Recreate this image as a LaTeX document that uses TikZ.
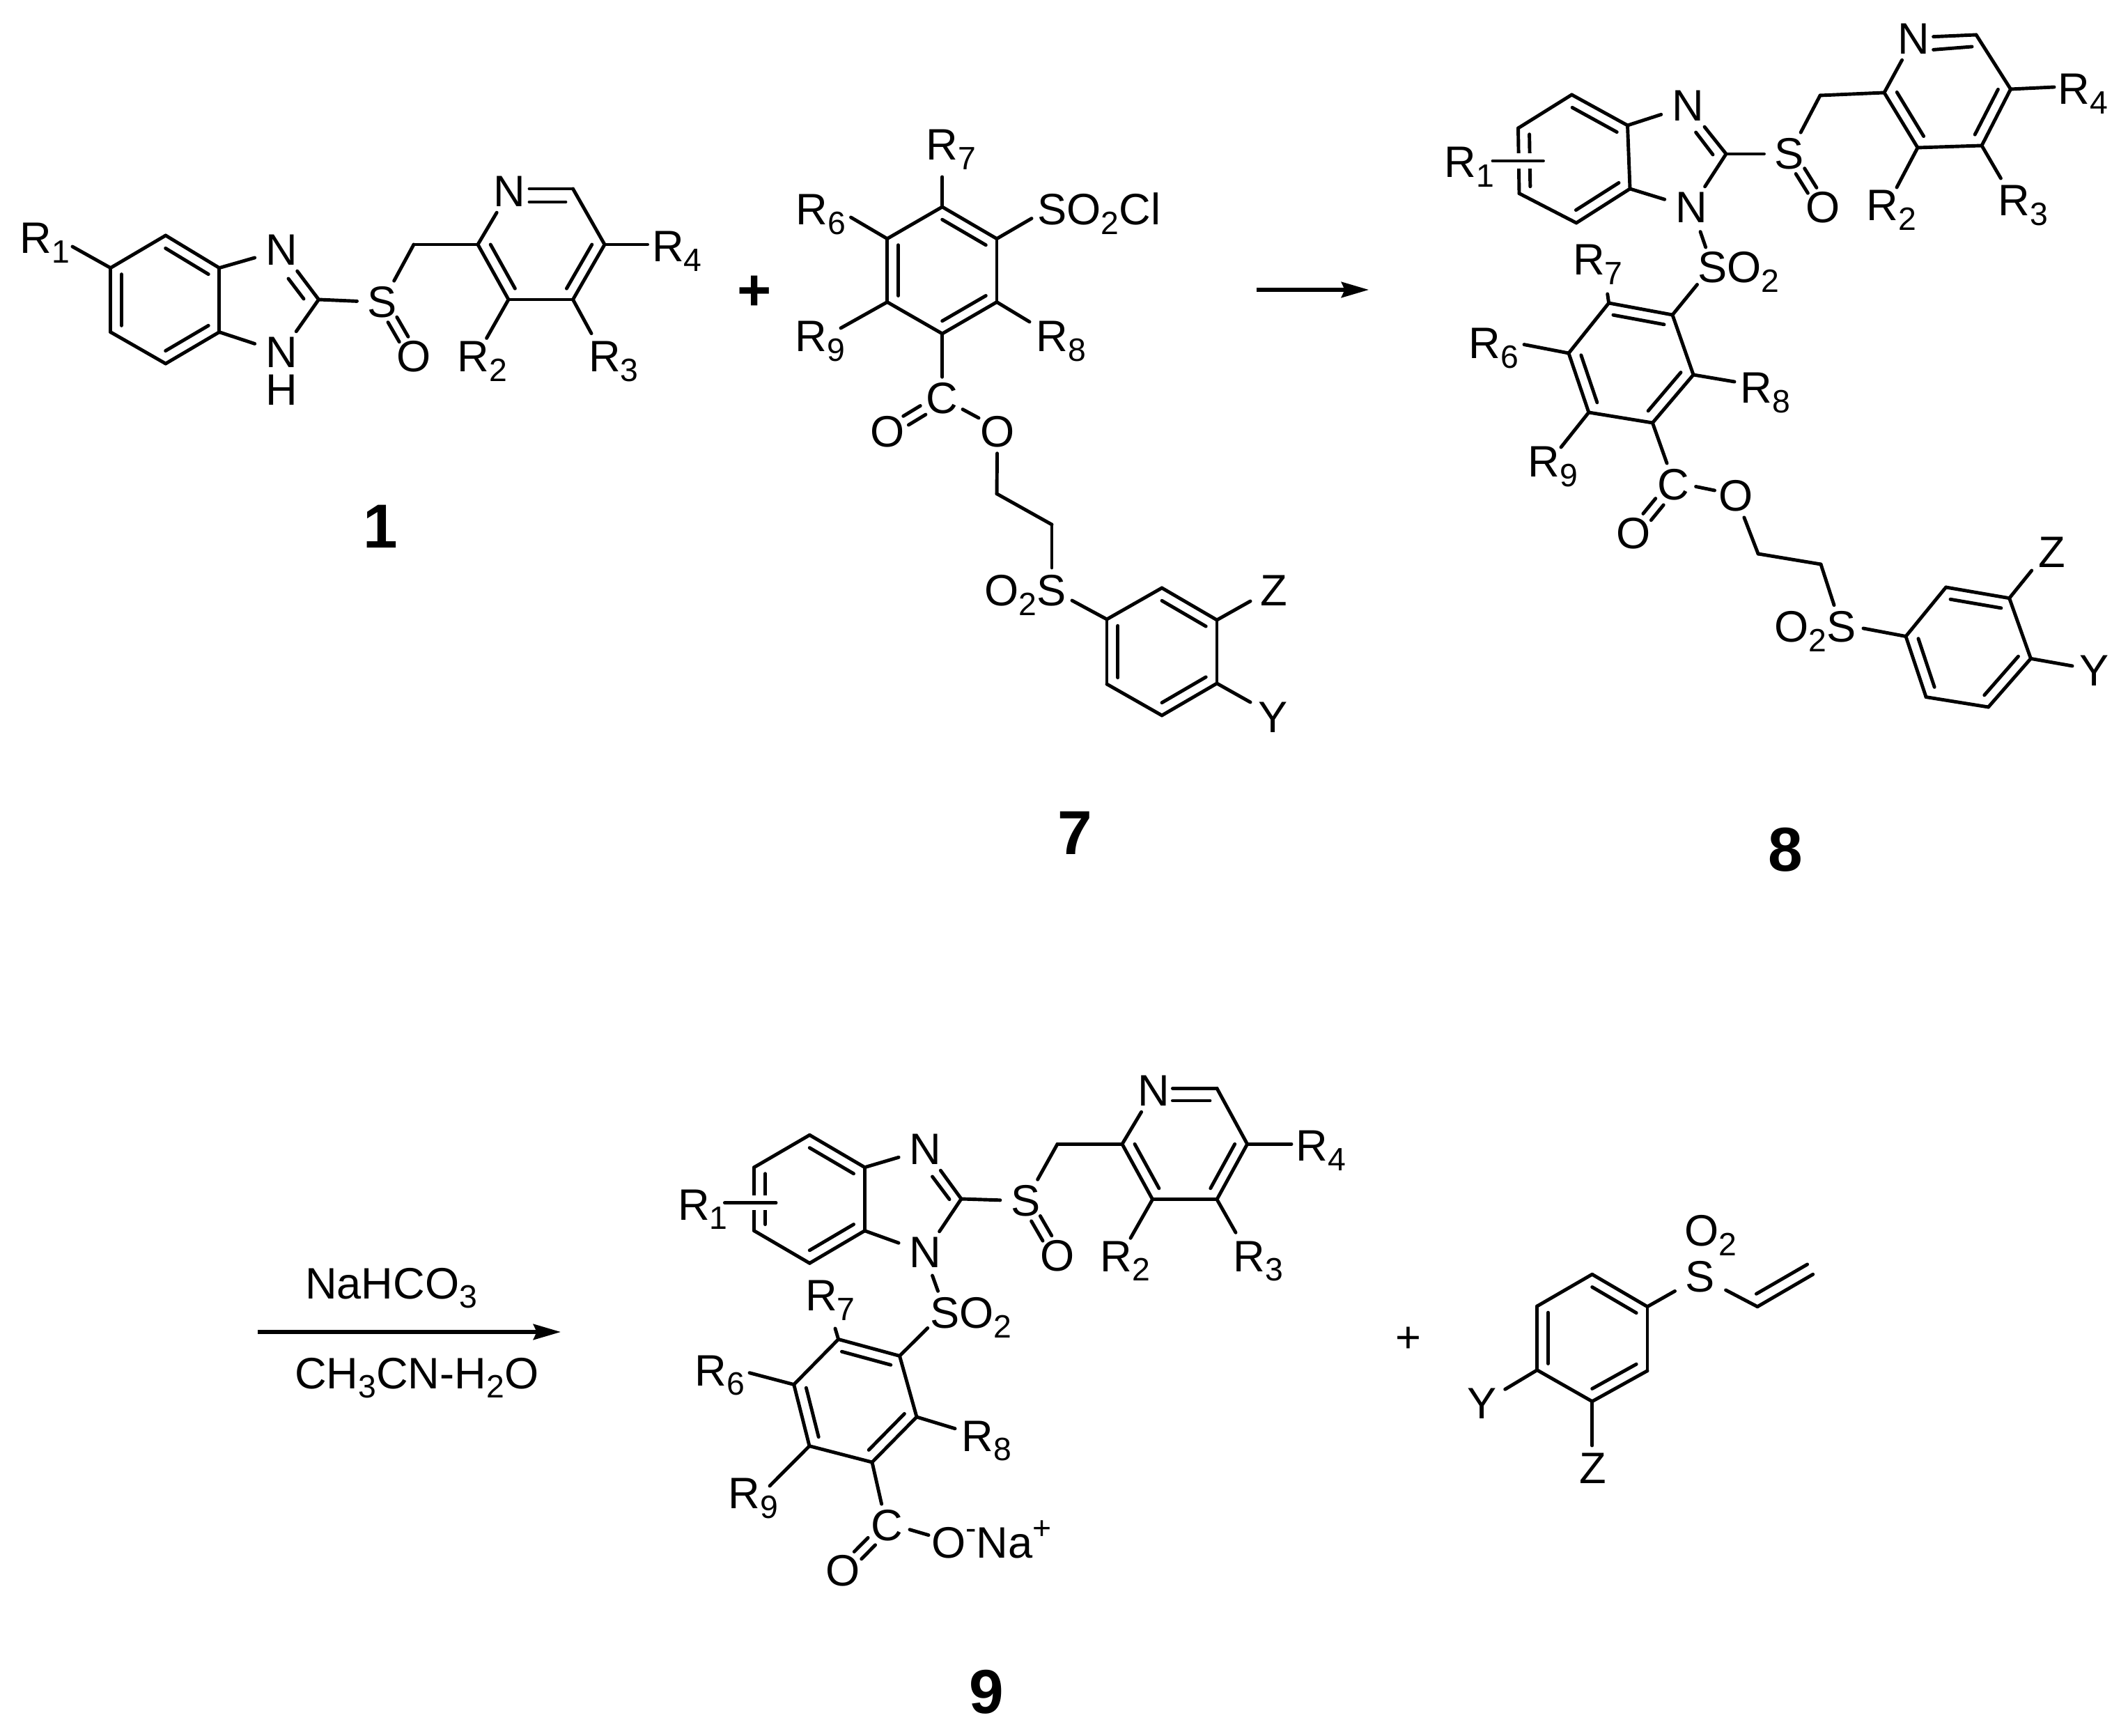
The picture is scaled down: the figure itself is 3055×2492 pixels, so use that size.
\documentclass[tikz,border=0pt]{standalone}
\usepackage{fontspec}
\setmainfont{Liberation Sans}
\usetikzlibrary{calc,arrows.meta}
\newcommand\chemsub[1]{\raisebox{-0.22em}{\fontsize{6.6}{7}\selectfont #1}}
\newcommand\chemsup[1]{\raisebox{0.42em}{\fontsize{6.6}{7}\selectfont #1}}
\newcommand\pts[1]{\foreach \nm/\xx/\yy in {#1} {\coordinate (\nm) at (\xx,\yy);}}
\newcommand\bonds[1]{\foreach \aa/\bb in {#1} {\draw[bond] (\aa) -- (\bb);}}
\newcommand\inr[3]{\draw[bond] ($(#1)!0.2!(#3)$) -- ($(#2)!0.2!(#3)$);}
\newcommand\twin[4]{%
  \coordinate (tp) at ($(#1)!#3!(#2)$);
  \coordinate (tq) at ($(#1)!#4!(#2)$);
  \draw[bond] ($(tp)!1.05pt!90:(tq)$) -- ($(tq)!1.05pt!-90:(tp)$);
  \draw[bond] ($(tp)!1.05pt!-90:(tq)$) -- ($(tq)!1.05pt!90:(tp)$);}
\newcommand\atom[4]{\node[atom] (#1) at (#2,#3) {#4};}
\newcommand\lab[4]{\node[lbl] (#1) at (#2,#3) {#4};}
\newcommand\Rr[1]{R\chemsub{#1}}
\tikzset{
  bond/.style={line width=0.7pt,line cap=round,line join=round,black},
  atom/.style={inner xsep=2pt,inner ysep=1pt,font=\fontsize{9}{10}\selectfont},
  lbl/.style={anchor=base west,xshift=-0.7pt,inner sep=0pt,font=\fontsize{9}{10}\selectfont},
  cmpd/.style={anchor=base,inner sep=0pt,font=\fontsize{12.7}{14}\selectfont\bfseries},
  rxn/.style={line width=0.72pt,-{Stealth[length=5.6pt,width=3.2pt,inset=0.7pt]}},
  halo/.style={white,line width=3pt}
}
\begin{document}
\begin{tikzpicture}[x=0.005cm,y=-0.005cm]
\useasboundingbox (0,0) rectangle (3055,2492);
% ---------- compound 1
\pts{Aa/237.8/338,Ab/314.8/384.6,Ac/314.8/476.7,Ad/237.8/522,Ae/158.7/476.7,Af/158.7/384.6,Ax/237/430,
 A2/457.5/430,Am/594/351,Ap2/686/351,Ap6/822.5/271,Ap5/868/351,Ap4/822.5/430,Ap3/730/430,Apc/777/351,
 AR1e/104/354,AR2e/698.6/485.4,AR3e/849/478.7,AR4e/929.6/351,ANo/760/271,ANi/760/290,ANj/812/290,Ai1/414/400,Ai2/436/429}
\atom{AN1}{404}{359}{N}\atom{AN2}{404}{506}{N}\lab{AH}{385}{582}{H}
\atom{AS}{549}{434}{S}\atom{AO}{594}{512}{O}\atom{AN}{731}{275}{N}
\lab{AR1}{32}{364}{\Rr1}\lab{AR2}{660}{534}{\Rr2}\lab{AR3}{848.6}{534}{\Rr3}\lab{AR4}{939.7}{376}{\Rr4}
\bonds{Aa/Ab,Ab/Ac,Ac/Ad,Ad/Ae,Ae/Af,Af/Aa,Af/AR1e,Ab/AN1,Ac/AN2,AN1/A2,AN2/A2,A2/AS,AS/Am,Am/Ap2,Ap2/AN,ANo/Ap6,Ap6/Ap5,Ap5/Ap4,Ap4/Ap3,Ap3/Ap2,ANi/ANj,Ai1/Ai2,Ap3/AR2e,Ap4/AR3e,Ap5/AR4e}
\inr{Aa}{Ab}{Ax}\inr{Ac}{Ad}{Ax}\inr{Ae}{Af}{Ax}\inr{Ap2}{Ap3}{Apc}\inr{Ap4}{Ap5}{Apc}
\twin{AS}{AO}{0.32}{0.68}
\node[cmpd] (c1) at (546,787) {1};
% ---------- plus
\node[inner sep=0pt,font=\fontsize{12}{14}\selectfont\bfseries] (plusA) at (1083,421) {+};
% ---------- compound 7
\pts{Ba/1352.7/297,Bb/1431/342.7,Bc/1431/433.6,Bd/1352.7/479,Be/1273.7/433.6,Bf/1273.7/342.7,Bx/1352.5/388,
 BR7e/1352.7/254,BR6e/1221.5/312,BSe/1481/313.6,BR9e/1207/471,BR8e/1478/462,BOa/1382/587.6,BOb/1405/600,
 Bm1/1431/708.8,Bm2/1510/753,BSa/1510/815,BSb/1539/862,
 Ca/1589/889,Cb/1668/844,Cc/1747/890,Cd/1747/981,Ce/1668/1027,Cf/1589/982,Cx/1668/935.5,CZe/1795/863,CYe/1795/1008}
\lab{BR7}{1333}{230}{\Rr7}\lab{BR6}{1146.4}{322.7}{\Rr6}\lab{BSO}{1493}{322.7}{SO\chemsub{2}Cl}
\lab{BR9}{1145}{504.5}{\Rr9}\lab{BR8}{1491}{504.5}{\Rr8}
\atom{BC}{1352.7}{572}{C}\atom{BO1}{1273.7}{620}{O}\atom{BO2}{1431.8}{620}{O}
\lab{BOS}{1416.8}{869.4}{O\chemsub{2}S}\lab{CZ}{1813}{869.3}{Z}\lab{CY}{1810}{1051.7}{Y}
\bonds{Ba/Bb,Bb/Bc,Bc/Bd,Bd/Be,Be/Bf,Bf/Ba,Ba/BR7e,Bf/BR6e,Bb/BSe,Be/BR9e,Bc/BR8e,BOa/BOb,BO2/Bm1,Bm1/Bm2,Bm2/BSa,BSb/Ca,
 Ca/Cb,Cb/Cc,Cc/Cd,Cd/Ce,Ce/Cf,Cf/Ca,Cc/CZe,Cd/CYe,Bd/BC}
\inr{Ba}{Bb}{Bx}\inr{Bc}{Bd}{Bx}\inr{Be}{Bf}{Bx}\inr{Cb}{Cc}{Cx}\inr{Cd}{Ce}{Cx}\inr{Cf}{Ca}{Cx}
\twin{BC}{BO1}{0.35}{0.66}
\node[cmpd] (c7) at (1543,1226.7) {7};
% ---------- arrow 1
\pts{ar1s/1804/416,ar1e/1965/416}
\draw[rxn] (ar1s) -- (ar1e);
% ---------- compound 8
\pts{Da/2256.4/136,Db/2336.5/180,Dc/2340/271,Dd/2263/320,De/2181/277.7,Df/2179.5/184,Dx/2260/228,
 D2/2478/221,Dm/2613/137,Dp2/2705/133,Dp6/2837/50,Dp5/2886.5/128,Dp4/2845/209,Dp3/2753/212,Dpc/2796/130,
 DNo/2775.6/52.7,DNi/2775.6/71.4,DNj/2831/67,Di1/2434.6/190,Di2/2459/222,
 DR1a/2143/231,DR1b/2215.4/231,DR4e/2949/125,DR2e/2723/269,DR3e/2872.4/256,
 DSa/2441/332.6,DSb/2448.7/355,
 Ea/2309.6/435,Eb/2401/452,Ec/2431/538,Ed/2372.4/607,Ee/2280.8/592,Ef/2252/507,Ex/2341/521,
 ESe/2436.5/408.5,ER7e/2307.7/422,ER6e/2188/494.6,ER8e/2490/548,ER9e/2241/642,Ede/2393/665,EOa/2434.6/698.5,EOb/2461.5/704,
 Em1/2524/795,Em2/2614/810,ESa/2633/868.7,ESb/2675/902,
 Fa/2736/913.5,Fb/2793.6/843,Fc/2884.6/858.7,Fd/2915.4/945.4,Fe/2854.5/1015,Ff/2765/1000.6,Fx/2825.7/929.5,FZe/2916.7/819,FYe/2975/956}
\atom{DN1}{2423}{152}{N}\atom{DN2}{2428}{298}{N}\atom{DS}{2569}{221}{S}\atom{DO}{2617}{298}{O}\atom{DN}{2747}{56}{N}
\lab{DR1}{2077}{255}{\Rr1}\lab{DR2}{2683}{317}{\Rr2}\lab{DR3}{2872}{310}{\Rr3}\lab{DR4}{2958}{149.5}{\Rr4}
\lab{DSO}{2441}{406}{SO\chemsub{2}}
\lab{ER7}{2261.5}{395}{\Rr7}\lab{ER6}{2112}{514.7}{\Rr6}\lab{ER8}{2502}{579}{\Rr8}\lab{ER9}{2197.4}{685}{\Rr9}
\atom{EC}{2402.6}{695.6}{C}\atom{EO1}{2345}{766}{O}\atom{EO2}{2492}{712}{O}
\lab{EOS}{2551}{921.8}{O\chemsub{2}S}\lab{FZ}{2930}{814.7}{Z}\lab{FY}{2988.6}{985}{Y}
\bonds{Da/Db,Db/Dc,Dc/Dd,Dd/De,De/Df,Df/Da,Db/DN1,Dc/DN2,DN1/D2,DN2/D2,D2/DS,DS/Dm,Dm/Dp2,Dp2/DN,DNo/Dp6,Dp6/Dp5,Dp5/Dp4,Dp4/Dp3,Dp3/Dp2,DNi/DNj,Di1/Di2,Dp5/DR4e,Dp3/DR2e,Dp4/DR3e,DSa/DSb}
\inr{Da}{Db}{Dx}\inr{Dc}{Dd}{Dx}\inr{De}{Df}{Dx}\inr{Dp2}{Dp3}{Dpc}\inr{Dp4}{Dp5}{Dpc}
\draw[halo] (DR1a) -- (DR1b);
\bonds{DR1a/DR1b}
\twin{DS}{DO}{0.32}{0.68}
\bonds{Ea/Eb,Eb/Ec,Ec/Ed,Ed/Ee,Ee/Ef,Ef/Ea,Eb/ESe,Ea/ER7e,Ef/ER6e,Ec/ER8e,Ee/ER9e,Ed/Ede,EOa/EOb,EO2/Em1,Em1/Em2,Em2/ESa,ESb/Fa,
 Fa/Fb,Fb/Fc,Fc/Fd,Fd/Fe,Fe/Ff,Ff/Fa,Fc/FZe,Fd/FYe}
\inr{Ea}{Eb}{Ex}\inr{Ec}{Ed}{Ex}\inr{Ee}{Ef}{Ex}\inr{Fb}{Fc}{Fx}\inr{Fd}{Fe}{Fx}\inr{Ff}{Fa}{Fx}
\twin{EC}{EO1}{0.35}{0.66}
\node[cmpd] (c8) at (2563,1251) {8};
% ---------- arrow 2
\pts{ar2s/370/1912,ar2e/805/1912}
\draw[rxn] (ar2s) -- (ar2e);
\lab{rg1}{441.7}{1864}{NaHCO\chemsub{3}}
\lab{rg2}{426.7}{1993}{CH\chemsub{3}CN-H\chemsub{2}O}
% ---------- compound 9
\pts{Ga/1162.3/1629.3,Gb/1241.4/1675.7,Gc/1241.4/1766.7,Gd/1162.3/1813.3,Ge/1082.6/1766.7,Gf/1082.6/1675.7,Gx/1162/1721,
 G2/1380/1721,Gm/1518/1642.3,Gp2/1611/1642.3,Gp6/1747/1562.3,Gp5/1790.6/1642.3,Gp4/1747/1721.7,Gp3/1654.6/1721.7,Gpc/1701/1642.3,
 GNo/1683.4/1562.3,GNi/1683.4/1580,GNj/1737/1580,Gi1/1338.5/1689,Gi2/1363/1721.7,
 GR1a/1040.4/1726.7,GR1b/1114/1726.7,GR4e/1854/1642.3,GR2e/1623/1777.3,GR3e/1774/1769.3,GSa/1338.5/1831,GSb/1346.5/1853.3,
 Ha/1203.6/1922.5,Hb/1291.5/1946.4,Hc/1316/2034,Hd/1252/2099,He/1162/2075.7,Hf/1139.7/1987.5,Hx/1228/2011,
 HSe/1331.7/1906.4,HR7e/1199/1907,HR6e/1076/1970.7,HR8e/1371/2050.7,HR9e/1105/2133,Hde/1265.6/2159,HOa/1306/2195.7,HOb/1333/2203.6}
\atom{GN1}{1328.4}{1650}{N}\atom{GN2}{1328.4}{1798}{N}\atom{GS}{1472.4}{1724}{S}\atom{GO}{1518}{1802.7}{O}\atom{GN}{1656.6}{1566}{N}
\lab{GR1}{976.8}{1751}{\Rr1}\lab{GR2}{1583}{1825}{\Rr2}\lab{GR3}{1774}{1825}{\Rr3}\lab{GR4}{1864}{1666.7}{\Rr4}
\lab{GSO}{1338.5}{1906.7}{SO\chemsub{2}}
\lab{HR7}{1159.6}{1881.7}{\Rr7}\lab{HR6}{1001}{1989}{\Rr6}\lab{HR8}{1384}{2083}{\Rr8}\lab{HR9}{1049}{2165.4}{\Rr9}
\atom{HC}{1273.7}{2190}{C}\atom{HO1}{1209.8}{2254.6}{O}
\lab{HONa}{1340.6}{2236.4}{O\chemsup{-}Na\chemsup{+}}
\bonds{Ga/Gb,Gb/Gc,Gc/Gd,Gd/Ge,Ge/Gf,Gf/Ga,Gb/GN1,Gc/GN2,GN1/G2,GN2/G2,G2/GS,GS/Gm,Gm/Gp2,Gp2/GN,GNo/Gp6,Gp6/Gp5,Gp5/Gp4,Gp4/Gp3,Gp3/Gp2,GNi/GNj,Gi1/Gi2,Gp5/GR4e,Gp3/GR2e,Gp4/GR3e,GSa/GSb}
\inr{Ga}{Gb}{Gx}\inr{Gc}{Gd}{Gx}\inr{Ge}{Gf}{Gx}\inr{Gp2}{Gp3}{Gpc}\inr{Gp4}{Gp5}{Gpc}
\draw[halo] (GR1a) -- (GR1b);
\bonds{GR1a/GR1b}
\twin{GS}{GO}{0.32}{0.68}
\bonds{Ha/Hb,Hb/Hc,Hc/Hd,Hd/He,He/Hf,Hf/Ha,Hb/HSe,Ha/HR7e,Hf/HR6e,Hc/HR8e,He/HR9e,Hd/Hde,HOa/HOb}
\inr{Ha}{Hb}{Hx}\inr{Hc}{Hd}{Hx}\inr{He}{Hf}{Hx}
\twin{HC}{HO1}{0.35}{0.66}
\node[cmpd] (c9) at (1416,2459) {9};
% ---------- plus + vinyl sulfone
\node[inner sep=0pt,font=\fontsize{9}{10}\selectfont] (plusB) at (2022,1923) {+};
\pts{Ja/2285.7/1829.3,Jb/2365/1875.7,Jc/2365/1967.7,Jd/2285.7/2011.7,Je/2206.7/1966.7,Jf/2206.7/1875,Jx/2285.7/1920.5,
 Jv1/2523/1875.7,Jv2/2602.7/1829.3,Jv3/2521.4/1857.3,Jv4/2594.6/1815,JYe/2160.7/1994.3,JZe/2285.7/2075}
\atom{JS}{2441}{1832.7}{S}
\lab{JO}{2422}{1788.3}{O\chemsub{2}}\lab{JY}{2110}{2036.7}{Y}\lab{JZ}{2271}{2129}{Z}
\bonds{Ja/Jb,Jb/Jc,Jc/Jd,Jd/Je,Je/Jf,Jf/Ja,Jb/JS,JS/Jv1,Jv1/Jv2,Jv3/Jv4,Je/JYe,Jd/JZe}
\inr{Ja}{Jb}{Jx}\inr{Jc}{Jd}{Jx}\inr{Je}{Jf}{Jx}
\end{tikzpicture}
\end{document}
